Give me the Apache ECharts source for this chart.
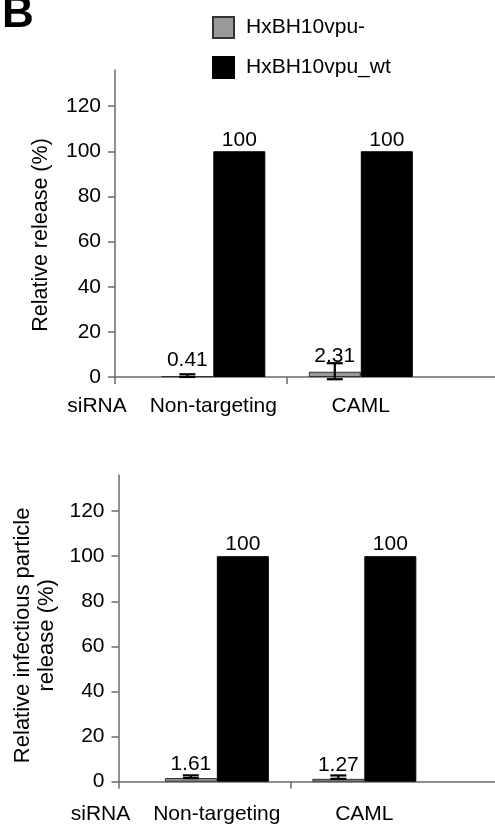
<!DOCTYPE html>
<html><head><meta charset="utf-8">
<script src="https://cdn.jsdelivr.net/npm/echarts@6/dist/echarts.min.js"></script>
<style>html,body{margin:0;padding:0;background:#fff}#c{width:495px;height:827px}</style>
</head><body><div id="c"></div>
<script>
// ---- data ----
const categories = ['Non-targeting', 'CAML'];
const catPos = [1, 2];
const seriesNames = ['HxBH10vpu-', 'HxBH10vpu_wt'];
const yTicks = [0, 20, 40, 60, 80, 100, 120];
const xLabelPrefix = 'siRNA';
const yNames = ['Relative release (%)', 'Relative infectious particle\nrelease (%)'];

const releaseVpuMinus = [0.41, 2.31];
const releaseVpuWt = [100, 100];
const releaseErrPlus = [0.8, 3.8];
const releaseErrMinus = [0.4, 3.3];

const infectVpuMinus = [1.61, 1.27];
const infectVpuWt = [100, 100];
const infectErrPlus = [1.2, 1.5];
const infectErrMinus = [0, 0];

// ---- style ----
const FONT = 'Liberation Sans, Arial, sans-serif';
const FS = 21;
const BAR_W = 52;
const X_MIN = 1 / 3;
const X_MAXS = [2.91, 2.886];
const AXIS_COLOR = '#6a6a6a';
const GRAY = '#999999';

const chart = echarts.init(document.getElementById('c'));

function errRender(params, api) {
  const x = api.value(0), lo = api.value(2), hi = api.value(3);
  const pt = api.coord([x, hi]);
  const pb = api.coord([x, lo]);
  const cx = pt[0] - BAR_W / 2;
  const cap = 8;
  const st = { stroke: '#000', lineWidth: 2.2 };
  return { type: 'group', children: [
    { type: 'line', shape: { x1: cx, y1: pt[1], x2: cx, y2: pb[1] }, style: st },
    { type: 'line', shape: { x1: cx - cap, y1: pt[1], x2: cx + cap, y2: pt[1] }, style: st },
    { type: 'line', shape: { x1: cx - cap, y1: pb[1], x2: cx + cap, y2: pb[1] }, style: st }
  ]};
}

const grids = [
  { left: 115, top: 70, right: 0, height: 307 },
  { left: 118.5, top: 475, right: 0, height: 306.7 }
];

function xAxisFor(i, labelMargin) {
  return {
    gridIndex: i, type: 'value', min: X_MIN, max: X_MAXS[i],
    axisLine: { show: true, onZero: false, lineStyle: { color: AXIS_COLOR, width: 1.5 } },
    axisTick: { show: true, length: 7, customValues: [X_MIN, 1.5], lineStyle: { color: AXIS_COLOR, width: 1.5 } },
    axisLabel: { customValues: catPos, margin: labelMargin, fontSize: FS, color: '#000', fontFamily: FONT,
      formatter: v => categories[catPos.indexOf(v)] || '' },
    splitLine: { show: false },
    name: xLabelPrefix, nameLocation: 'start', nameGap: 18,
    nameTextStyle: { fontSize: FS, color: '#000', fontFamily: FONT, align: 'center', verticalAlign: 'top', padding: [labelMargin, 0, 0, 0] }
  };
}
function yAxisFor(i, nameGap, pad, nameFs) {
  return {
    gridIndex: i, type: 'value', min: 0, max: 136,
    axisLine: { show: true, lineStyle: { color: AXIS_COLOR, width: 1.5 } },
    axisTick: { show: true, length: 7, customValues: yTicks, lineStyle: { color: AXIS_COLOR, width: 1.5 } },
    axisLabel: { customValues: yTicks, margin: 14, fontSize: FS, color: '#000', fontFamily: FONT },
    splitLine: { show: false },
    name: yNames[i], nameLocation: 'middle', nameGap: nameGap,
    nameTextStyle: { fontSize: nameFs, color: '#000', fontFamily: FONT, lineHeight: 24, padding: pad }
  };
}

function barSeries(i, name, vals, color, border, labelDist) {
  return {
    type: 'bar', name: name, xAxisIndex: i, yAxisIndex: i,
    barWidth: BAR_W, barGap: '0%',
    data: vals.map((v, k) => [catPos[k], v]),
    itemStyle: { color: color, borderColor: border, borderWidth: 1 },
    label: { show: true, position: 'top', distance: labelDist, fontSize: FS, color: '#000', fontFamily: FONT,
      formatter: p => String(p.value[1]) },
    emphasis: { disabled: true }
  };
}
function errSeries(i, vals, plus, minus) {
  return {
    type: 'custom', xAxisIndex: i, yAxisIndex: i, renderItem: errRender, z: 10,
    data: vals.map((v, k) => [catPos[k], v, v - minus[k], v + plus[k]]),
    silent: true
  };
}

chart.setOption({
  animation: false,
  backgroundColor: '#fff',
  title: { text: 'B', left: -3, top: -12, textStyle: { fontSize: 44, fontWeight: 'bold', color: '#000', fontFamily: FONT } },
  legend: {
    data: seriesNames, orient: 'vertical', left: 207, top: 11,
    itemWidth: 21, itemHeight: 21, itemGap: 17, icon: 'rect',
    textStyle: { fontSize: FS, color: '#000', fontFamily: FONT, padding: [0, 0, 0, 7] },
    selectedMode: false
  },
  grid: grids,
  xAxis: [xAxisFor(0, 19), xAxisFor(1, 22)],
  yAxis: [yAxisFor(0, 62, [0, 23, 0, 0], 21.5), yAxisFor(1, 37, [0, 14, 0, 0], 22)],
  series: [
    barSeries(0, seriesNames[0], releaseVpuMinus, GRAY, '#333', 5),
    barSeries(0, seriesNames[1], releaseVpuWt, '#000', '#000', 1),
    errSeries(0, releaseVpuMinus, releaseErrPlus, releaseErrMinus),
    barSeries(1, seriesNames[0], infectVpuMinus, GRAY, '#333', 3),
    barSeries(1, seriesNames[1], infectVpuWt, '#000', '#000', 1),
    errSeries(1, infectVpuMinus, infectErrPlus, infectErrMinus)
  ]
});
</script></body></html>
